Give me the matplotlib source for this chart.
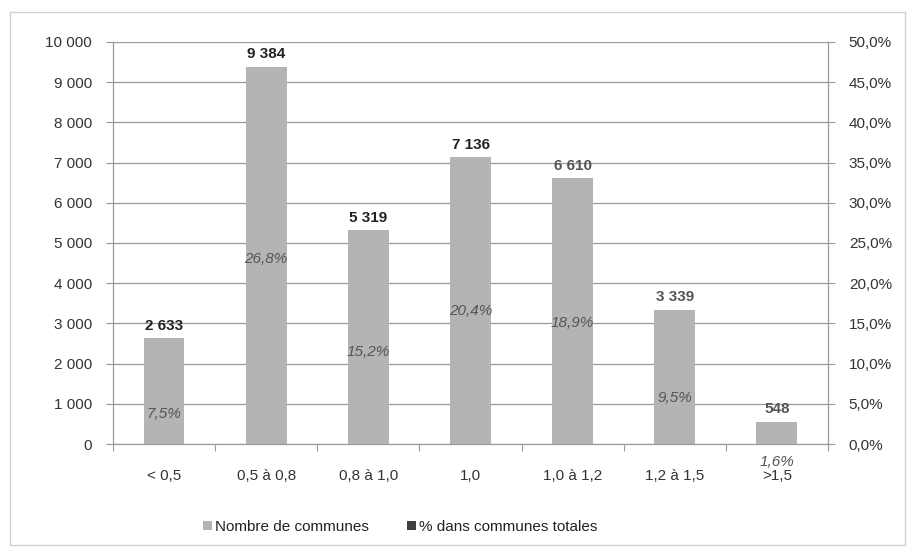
import matplotlib
matplotlib.use("Agg")
import matplotlib.pyplot as plt
from matplotlib.patches import Patch, Rectangle
from matplotlib.ticker import FuncFormatter, MultipleLocator

plt.rcParams['font.family'] = ['Liberation Sans', 'DejaVu Sans']

categories = ["< 0,5", "0,5 à 0,8", "0,8 à 1,0", "1,0", "1,0 à 1,2", "1,2 à 1,5", ">1,5"]
communes = [2633, 9384, 5319, 7136, 6610, 3339, 548]
pct = [7.5, 26.8, 15.2, 20.4, 18.9, 9.5, 1.6]
count_labels = ["2 633", "9 384", "5 319", "7 136", "6 610", "3 339", "548"]
pct_labels = ["7,5%", "26,8%", "15,2%", "20,4%", "18,9%", "9,5%", "1,6%"]

W, H = 909, 555
fig = plt.figure(figsize=(W / 100, H / 100), dpi=100)
fig.patches.append(Rectangle((10 / W, 10 / H), 895 / W, 533 / H, transform=fig.transFigure,
                             fill=False, edgecolor="#d0d0d0", linewidth=1.0))

ax = fig.add_axes([113 / W, (H - 444) / H, (828 - 113) / W, (444 - 42) / H])
ax2 = ax.twinx()

x = list(range(len(categories)))
bar_gray = "#b4b4b4"
ax.bar(x, communes, width=0.4, color=bar_gray, zorder=2)
ax2.bar(x, pct, width=0.4, color="#b0b0b0", zorder=2)

ax.set_ylim(0, 10000)
ax2.set_ylim(0, 50)
ax.set_xlim(-0.5, len(categories) - 0.5)
ax.yaxis.set_major_locator(MultipleLocator(1000))
ax2.yaxis.set_major_locator(MultipleLocator(5))
ax.yaxis.set_major_formatter(FuncFormatter(lambda v, p: f"{int(v):,}".replace(",", " ")))
ax2.yaxis.set_major_formatter(FuncFormatter(lambda v, p: f"{v:.1f}%".replace(".", ",")))

ax.set_zorder(ax2.get_zorder() + 1)
ax.patch.set_visible(False)
ax.grid(axis="y", color="#9a9a9a", linewidth=0.9, zorder=0)
ax.set_axisbelow(True)

for a in (ax, ax2):
    for s in a.spines.values():
        s.set_color("#9a9a9a")
    a.spines["top"].set_visible(False)
    a.tick_params(colors="#333333", labelsize=11, length=5, width=0.8)
    a.tick_params(axis="y", color="#9a9a9a")
ax.tick_params(axis="y", pad=10)
ax2.tick_params(axis="y", pad=10)

ax.set_xticks([i + 0.5 for i in range(-1, len(categories))], minor=False)
ax.set_xticklabels([])
ax.set_xticks(x, minor=True)
ax.set_xticklabels(categories, minor=True)
ax.tick_params(axis="x", which="major", length=5, color="#9a9a9a")
ax.tick_params(axis="x", which="minor", length=0, pad=18, labelsize=11, labelcolor="#333333")

for i, (v, lab) in enumerate(zip(communes, count_labels)):
    col = "#222222" if i < 4 else "#555555"
    ax.annotate(lab, (i, v), xytext=(0, 4), textcoords="offset points", ha="center", va="bottom",
                fontsize=11, fontweight="bold", color=col, zorder=5)

for i, (v, lab) in enumerate(zip(pct, pct_labels)):
    ax.annotate(lab, (i, v), xycoords=ax2.transData, xytext=(0, -22), textcoords="offset points",
                ha="center", va="center", fontsize=11, fontstyle="italic", color="#555555", zorder=5,
                annotation_clip=False)

handles = [Patch(facecolor=bar_gray, edgecolor="none"), Patch(facecolor="#404040", edgecolor="none")]
fig.legend(handles, ["Nombre de communes", "% dans communes totales"], loc="center",
           bbox_to_anchor=(400 / W, 1 - 527 / H), ncol=2, frameon=False, fontsize=11,
           handlelength=0.6, handleheight=0.6, handletextpad=0.2, columnspacing=2.5,
           labelcolor="#222222")

fig.savefig("out.png", dpi=100)
